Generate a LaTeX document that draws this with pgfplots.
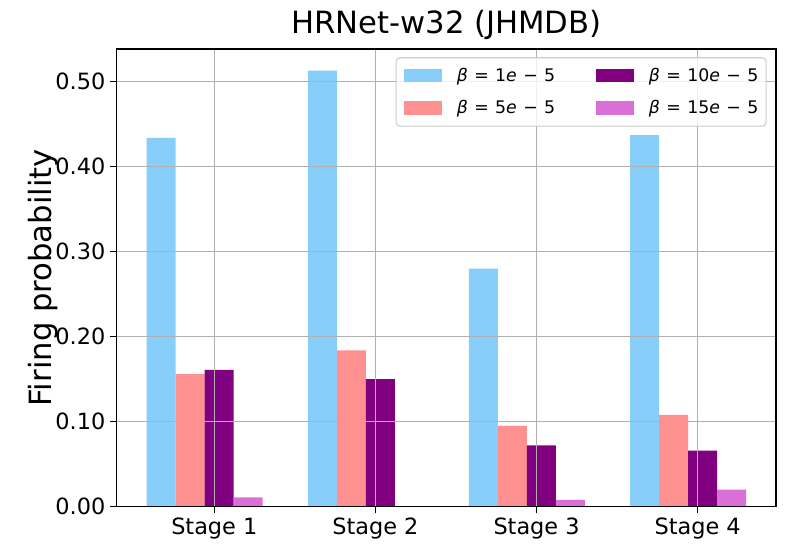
\documentclass[border=0pt]{standalone}
\usepackage{fontspec}
\setmainfont{DejaVu Sans}
\usepackage{pgfplots}
\pgfplotsset{compat=1.18}
\definecolor{c1}{HTML}{87CEFA}
\definecolor{c2}{HTML}{FF9090}
\definecolor{c3}{HTML}{800080}
\definecolor{c4}{HTML}{DA70D6}
\newcommand{\bt}{{\itshape β}}
\newcommand{\ee}{{\itshape e}}
\newcommand{\lsp}{\hspace{0.37em}}
\begin{document}
\begin{tikzpicture}
\useasboundingbox (-87.5pt,-37.7pt) rectangle (505pt,380pt);
\begin{axis}[
  at={(0,0)}, anchor=south west,
  scale only axis, width=494.5pt, height=343.3pt,
  xmin=-0.606, xmax=3.486, ymin=0, ymax=0.5385,
  xtick={0,1,2,3}, xticklabels={Stage 1,Stage 2,Stage 3,Stage 4},
  ytick={0,0.1,0.2,0.3,0.4,0.5},
  /pgf/number format/assume math mode=true,
  yticklabel style={/pgf/number format/.cd, fixed, fixed zerofill, precision=2},
  tick label style={font=\fontsize{16.8}{19}\selectfont},
  grid=major, major grid style={line width=0.9pt, color=black!31},
  axis on top,
  axis line style={line width=1.2pt},
  tick style={line width=1.2pt, black},
  tick align=outside, major tick length=5pt,
  xtick pos=bottom, ytick pos=left,
  title={HRNet-w32 (JHMDB)},
  title style={font=\fontsize{23}{27}\selectfont, at={(0.5,1)}, anchor=base, yshift=5.25pt},
  ylabel={Firing probability},
  ylabel style={font=\fontsize{23}{27}\selectfont, at={(axis description cs:-0.0986,0.5)}, anchor=base},
  legend image code/.code={\fill[#1, draw=none, sharp corners, fill opacity=1] (0pt,-5pt) rectangle (28.5pt,5pt);},
  legend columns=2, transpose legend,
  legend cell align=left,
  legend style={at={(rel axis cs:0.9859,0.9819)}, anchor=north east,
    draw=black!20, line width=0.8pt, rounded corners=3pt,
    fill=white, fill opacity=0.8, text opacity=1,
    font=\fontsize{13}{15}\selectfont,
    inner xsep=5.8pt, inner ysep=7.8pt, row sep=12.8pt,
    nodes={inner sep=0pt},
    /tikz/every odd column/.append style={column sep=11.25pt},
    /tikz/every even column/.append style={column sep=30.5pt}},
]
\addplot[ybar, bar width=0.18, bar shift=-0.33, fill=c1, draw=none] coordinates {(0,0.434) (1,0.513) (2,0.280) (3,0.437)};
\addlegendentry{\bt\lsp=\lsp1\ee\lsp−\lsp5}
\addplot[ybar, bar width=0.18, bar shift=-0.15, fill=c2, draw=none] coordinates {(0,0.156) (1,0.184) (2,0.095) (3,0.108)};
\addlegendentry{\bt\lsp=\lsp5\ee\lsp−\lsp5}
\addplot[ybar, bar width=0.18, bar shift=0.03, fill=c3, draw=none] coordinates {(0,0.161) (1,0.150) (2,0.072) (3,0.066)};
\addlegendentry{\bt\lsp=\lsp10\ee\lsp−\lsp5}
\addplot[ybar, bar width=0.18, bar shift=0.21, fill=c4, draw=none] coordinates {(0,0.011) (1,0.0) (2,0.008) (3,0.020)};
\addlegendentry{\bt\lsp=\lsp15\ee\lsp−\lsp5}
\end{axis}
\end{tikzpicture}
\end{document}
